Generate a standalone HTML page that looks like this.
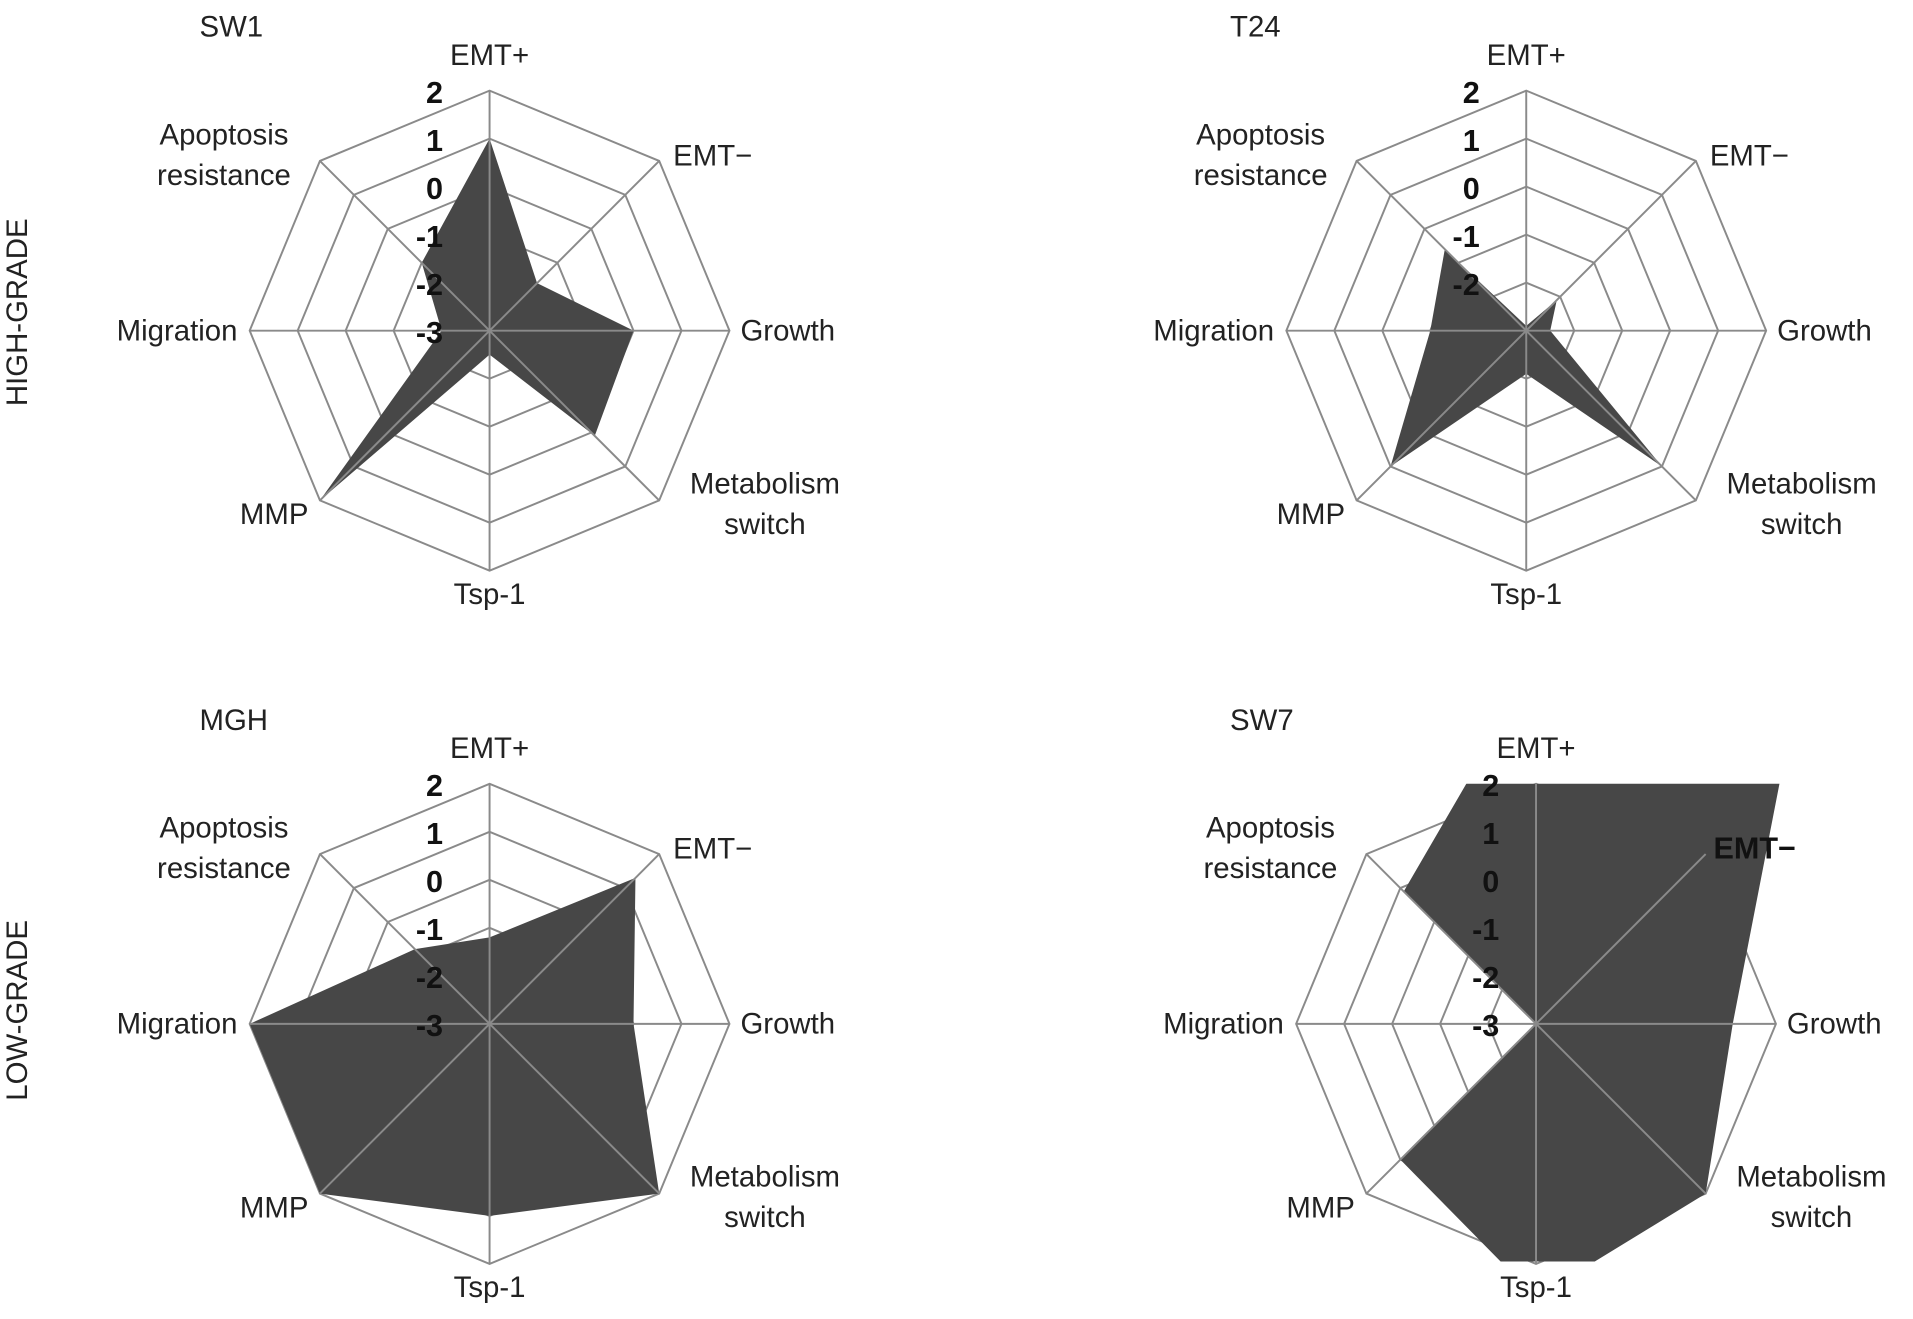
<!DOCTYPE html>
<html><head><meta charset="utf-8"><style>
html,body{margin:0;padding:0;background:#fff;}
svg{display:block;}
text{font-family:"Liberation Sans",Arial,sans-serif;fill:#222;}
</style></head><body>
<svg id="fig" width="1913" height="1319" viewBox="0 0 1563 1077" preserveAspectRatio="none">
<defs></defs>
<text x="22" y="255" font-size="24" text-anchor="middle" transform="rotate(-90 22 255)">HIGH-GRADE</text>
<text x="22" y="825" font-size="24" text-anchor="middle" transform="rotate(-90 22 825)">LOW-GRADE</text>
</svg>
<script>
const axes = ["EMT+","EMT\u2212","Growth","Metabolism switch","Tsp-1","MMP","Migration","Apoptosis resistance"];
const ticks = [2,1,0,-1,-2,-3];
const sw1Values = [1,-1.6,0,0.1,-2.5,2,-2,-1];
const t24Values = [-2.9,-2.1,-2.5,1,-2.1,1,-1,-0.6];
const mghValues = [-1.2,1.3,0,2,1,2,2,-0.8];
const sw7Values = [4.5,4.2,1.1,2,2.7,1,-3,0.9];
const panels = [
  {name:"SW1", cx:400, cy:270, vals:sw1Values, ticksShown:6, tickX:-38},
  {name:"T24", cx:1247, cy:270, vals:t24Values, ticksShown:5, tickX:-38},
  {name:"MGH", cx:400, cy:836, vals:mghValues, ticksShown:6, tickX:-38},
  {name:"SW7", cx:1255, cy:836, vals:sw7Values, ticksShown:6, tickX:-30, clip:true}
];
const R = 196, vmin = -3, vmax = 2;
const NS = "http://www.w3.org/2000/svg";
const svg = document.getElementById('fig');
function rScale(v){ return (v - vmin) / (vmax - vmin) * R; }
function pt(cx, cy, i, r){ const a = -Math.PI/2 + i*Math.PI/4; return [cx + r*Math.cos(a), cy + r*Math.sin(a)]; }
function mk(tag, attrs){ const e = document.createElementNS(NS, tag); for (const k in attrs) e.setAttribute(k, attrs[k]); return e; }
function txt(x, y, s, anchor, size, bold){
  const t = mk('text', {x:x, y:y, 'font-size':size||24, 'text-anchor':anchor||'start'});
  if (bold) { t.setAttribute('font-weight','bold'); t.style.fill = '#111'; }
  t.textContent = s; return t;
}
panels.forEach((p, pi) => {
  const g = mk('g', {});
  
  
  svg.appendChild(g);
  const {cx, cy} = p;
  // rings
  ticks.forEach(tv => {
    if (tv === vmin) return;
    const r = rScale(tv);
    const pts = axes.map((_, i) => pt(cx, cy, i, r).join(',')).join(' ');
    const ring = mk('polygon', {points: pts, fill: 'none', stroke: '#8a8a8a', 'stroke-width': 1.6});
    
    
    g.appendChild(ring);
  });
  // fill
  if (p.clip) {
    const cp = mk('clipPath', {id: 'clip' + pi});
    cp.appendChild(mk('rect', {x: cx - R - 5, y: cy - R, width: 2*R + 10, height: 2*R - 2}));
    svg.querySelector('defs').appendChild(cp);
  }
  const dpts = p.vals.map((v, i) => pt(cx, cy, i, rScale(v)).join(',')).join(' ');
  const area = mk('polygon', {points: dpts, fill: '#474747', stroke: 'none'});
  if (p.clip) area.setAttribute('clip-path', 'url(#clip' + pi + ')');
  
  
  g.appendChild(area);
  // spokes
  axes.forEach((_, i) => {
    const [x, y] = pt(cx, cy, i, R);
    const sp = mk('line', {x1: cx, y1: cy, x2: x, y2: y, stroke: '#8a8a8a', 'stroke-width': 1.6});
    
    
    g.appendChild(sp);
  });
  // tick labels
  ticks.slice(0, p.ticksShown).forEach(tv => {
    const t = txt(cx + p.tickX, cy - rScale(tv) + 10, String(tv), 'end', 25, true);
    
    
    g.appendChild(t);
  });
  // axis labels
  const L = [];
  L.push([cx, cy - 217, ["EMT+"], 'middle']);
  L.push([cx + 150, cy - 135, ["EMT\u2212"], 'start']);
  L.push([cx + 205, cy + 8, ["Growth"], 'start']);
  L.push([cx + 225, cy + 133, ["Metabolism", "switch"], 'middle']);
  L.push([cx, cy + 223, ["Tsp-1"], 'middle']);
  L.push([cx - 148, cy + 158, ["MMP"], 'end']);
  L.push([cx - 206, cy + 8, ["Migration"], 'end']);
  L.push([cx - 217, cy - 152, ["Apoptosis", "resistance"], 'middle']);
  L.forEach((l, i) => {
    if (p.clip && i === 1) {
      const t = txt(cx + 145, cy - 135, "EMT\u2212", 'start', 25, true);
      
      
      g.appendChild(t);
      return;
    }
    l[2].forEach((s, k) => {
      const t = txt(l[0], l[1] + k*33, s, l[3], 24);
      
      
      g.appendChild(t);
    });
  });
  const title = txt(p.name === "SW1" || p.name === "MGH" ? 163 : 1005, cy - 240, p.name, 'start', 24);
  
  
  g.appendChild(title);
});
</script>
</body></html>
